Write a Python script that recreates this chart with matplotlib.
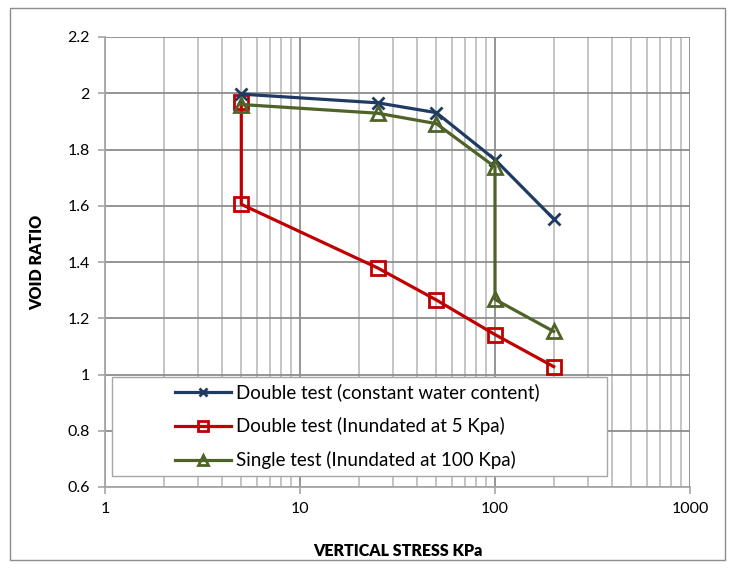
import matplotlib.pyplot as plt
from matplotlib.patches import Rectangle
from matplotlib.ticker import LogLocator, FixedLocator, NullFormatter

# consolidation data
blue_x = [5, 25, 50, 100, 200]
blue_e = [1.997, 1.966, 1.931, 1.764, 1.553]

red_x = [5, 5, 25, 50, 100, 200]
red_e = [1.970, 1.605, 1.379, 1.265, 1.142, 1.028]

green_x = [5, 25, 50, 100, 100, 200]
green_e = [1.960, 1.929, 1.892, 1.738, 1.267, 1.153]

labels = [
    "Double test (constant water content)",
    "Double test (Inundated at 5 Kpa)",
    "Single test (Inundated at 100 Kpa)",
]

plt.rcParams['font.family'] = ['Lato', 'DejaVu Sans']
W, H = 735, 568
fig = plt.figure(figsize=(W / 100, H / 100), dpi=100)
ax = fig.add_axes([105 / W, 1 - 487 / H, 585 / W, 450 / H])

grid_c = '#A6A6A6'
ax.plot(blue_x, blue_e, color='#1F3B64', lw=2.3, marker='x', ms=9, mew=2,
        label=labels[0], zorder=4)
ax.plot(red_x, red_e, color='#C00000', lw=2.3, marker='s', ms=10, mew=2,
        mfc='none', label=labels[1], zorder=3)
ax.plot(green_x, green_e, color='#4F6228', lw=2.3, marker='^', ms=10, mew=2,
        mfc='none', label=labels[2], zorder=5)

ax.set_xscale('log')
ax.set_xlim(1, 1000)
ax.set_ylim(0.6, 2.2)
ax.yaxis.set_major_locator(FixedLocator([0.6, 0.8, 1.0, 1.2, 1.4, 1.6, 1.8, 2.0, 2.2]))
ax.set_yticklabels(['0.6', '0.8', '1', '1.2', '1.4', '1.6', '1.8', '2', '2.2'])
ax.xaxis.set_major_locator(FixedLocator([1, 10, 100, 1000]))
ax.set_xticklabels(['1', '10', '100', '1000'])
ax.xaxis.set_minor_locator(LogLocator(base=10, subs=range(2, 10)))
ax.xaxis.set_minor_formatter(NullFormatter())

ax.grid(True, which='major', color='#8C8C8C', lw=1.3)
ax.grid(True, which='minor', axis='x', color='#BFBFBF', lw=1.3)
ax.set_axisbelow(True)
ax.tick_params(which='major', length=5, width=1.2, color=grid_c,
               labelsize=11.5, pad=6, labelcolor='#000000')
ax.tick_params(which='minor', length=0)
for s in ['top', 'right']:
    ax.spines[s].set_visible(False)
for s in ['left', 'bottom']:
    ax.spines[s].set_color(grid_c)
    ax.spines[s].set_linewidth(1.3)

ax.set_xlabel('VERTICAL STRESS KPa', fontsize=11.5, fontweight='heavy', labelpad=19)
ax.set_ylabel('VOID RATIO', fontsize=11.5, fontweight='heavy', labelpad=16)

# legend box
lx0, ly0, lx1, ly1 = 112, 377, 607, 476
box = Rectangle((lx0 / W, 1 - ly1 / H), (lx1 - lx0) / W, (ly1 - ly0) / H,
                transform=fig.transFigure, facecolor='white', edgecolor='#A6A6A6',
                lw=1.0, zorder=6)
ax.add_patch(box)
box.set_clip_on(False)
leg = ax.legend(loc='center', bbox_to_anchor=((lx0 + lx1) / 2 / W - 0.003, 1 - (ly0 + ly1) / 2 / H),
                bbox_transform=fig.transFigure, frameon=False, fontsize=13.5,
                handlelength=3.0, handletextpad=0.3, labelspacing=0.85, markerscale=0.65)
leg.set_zorder(7)

# outer chart border
fig.patches.append(Rectangle((10 / W, 8 / H), 715 / W, 552 / H, transform=fig.transFigure,
                             facecolor='none', edgecolor='#8C8C8C', lw=1.0))

fig.savefig('out.png', dpi=100)
